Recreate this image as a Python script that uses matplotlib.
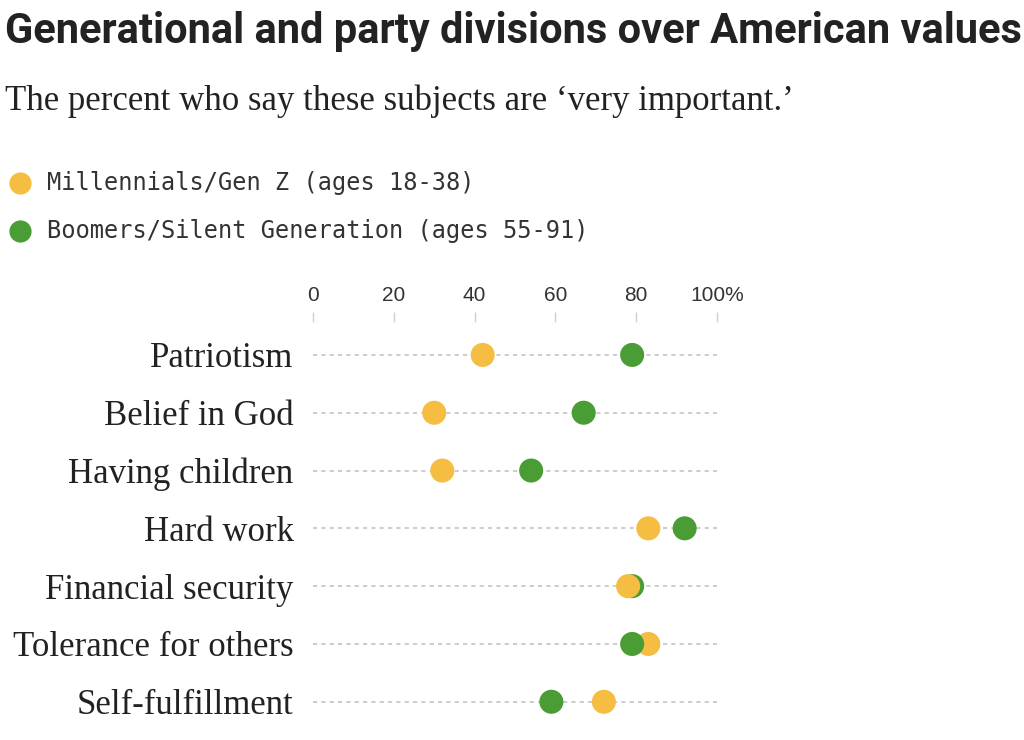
import matplotlib.pyplot as plt
from matplotlib.lines import Line2D

subjects = ['Patriotism', 'Belief in God', 'Having children', 'Hard work',
            'Financial security', 'Tolerance for others', 'Self-fulfillment']
millennials = [42, 30, 32, 83, 78, 83, 72]
boomers = [79, 67, 54, 92, 79, 79, 59]
ticks = [0, 20, 40, 60, 80, 100]
tick_labels = ['0', '20', '40', '60', '80', '100%']
series_names = ['Millennials/Gen Z (ages 18-38)', 'Boomers/Silent Generation (ages 55-91)']

YELLOW = '#F5BD41'
GREEN = '#4A9D35'

fig = plt.figure(figsize=(10.24, 7.4), dpi=100)
ax = fig.add_axes([313/1024, 0.0126, 404/1024, 0.5523])

rows = list(range(len(subjects)))
for r in rows:
    ax.plot([0, 100], [r, r], color='#c4c4c4', lw=1.2, ls=(0, (2.5, 2.5)), zorder=1)
    # smaller value drawn on top
    pts = sorted([(millennials[r], YELLOW), (boomers[r], GREEN)], reverse=True)
    for z, (v, c) in enumerate(pts):
        ax.scatter(v, r, s=300, color=c, edgecolor='none', zorder=3 + z)

ax.set_xlim(0, 100)
ax.set_ylim(6.5, -0.57)
ax.set_yticks(rows)
ax.set_yticklabels(subjects, family='Liberation Serif', fontsize=25, color='#222222')
ax.tick_params(axis='y', length=0, pad=14)
ax.xaxis.tick_top()
ax.set_xticks(ticks)
ax.set_xticklabels(tick_labels, family='Liberation Sans', fontsize=15, color='#333333')
ax.tick_params(axis='x', length=7, width=1, color='#d0d0d0', pad=5)
for s in ax.spines.values():
    s.set_visible(False)

fig.text(5/1024, 1 - 32/740, 'Generational and party divisions over American values',
         family=['Liberation Sans Narrow', 'Roboto', 'DejaVu Sans'], fontweight='bold',
         fontsize=30, color='#222222', va='center', ha='left')
fig.text(5/1024, 1 - 101/740, 'The percent who say these subjects are \u2018very important.\u2019',
         family='Liberation Serif', fontsize=25, color='#222222', va='center', ha='left')

colors = [YELLOW, GREEN]
for i, name in enumerate(series_names):
    y = 1 - (183 + 48 * i)/740
    fig.add_artist(Line2D([20/1024], [y], marker='o', markersize=16, color=colors[i],
                          markeredgewidth=0, transform=fig.transFigure))
    fig.text(47/1024, y, name, family='DejaVu Sans Mono', fontsize=17,
             color='#333333', va='center', ha='left')

fig.savefig('out.png', dpi=100)
